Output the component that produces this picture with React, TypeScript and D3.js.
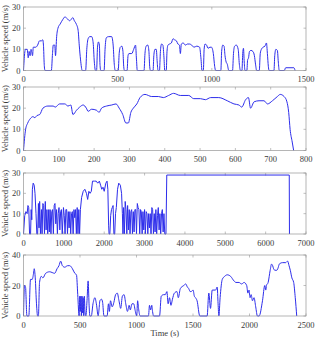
import React, {Component} from 'react';
import * as d3 from "d3"

// drive cycle 1: [time (s), speed (m/s)]
const cycle1: [number, number][] = [
  [0,0],[6,8],[10,10],[20,10],[25,6],[30,9],[35,7],[40,10],[48,7],[52,11],[65,11],[75,12],[85,14],[95,14],[102,14.5],[106,12],[110,3],[114,0],
  [148,0],[154,8],[158,12],[166,12],[170,7],[176,16],[183,20],[195,22],[208,24],[220,25.3],[232,24.5],[245,23.5],[252,24],[262,25],[270,23.5],[280,22],[290,19],[296,12],[303,5],[312,0],
  [330,0],[336,10],[343,15],[352,16],[362,16],[370,13],[376,4],[382,0],[388,0],[393,11],[398,13.5],[403,12],[406,3],[410,0],
  [428,0],[433,10],[440,15.5],[452,16],[468,16],[476,12],[482,3],[487,0],
  [503,0],[508,8],[514,11],[522,11.5],[528,9],[532,2],[536,0],
  [550,0],[555,7],[560,8],[575,8],[585,10],[595,12],[600,5],[604,0],
  [640,0],[645,8],[651,11.5],[660,12],[666,9],[670,2],[674,0],
  [688,0],[692,7],[698,10],[705,10],[710,4],[714,0],
  [722,0],[727,9],[733,12.5],[740,12],[746,6],[750,0],
  [758,0],[762,9],[767,12],[775,12.5],[785,13],[794,15],[802,14.5],[812,14],[820,12.5],[828,12],[833,8],[838,12.5],[848,13],[860,12],[870,12.5],[882,12.5],[893,12],[905,11],[920,11.5],[935,11],[942,6],[948,0],
  [955,0],[959,10],[964,12.5],[972,12],[980,10.5],[990,11],[998,11],[1008,8],[1015,2],[1020,0],
  [1048,0],[1052,9],[1058,12],[1065,11.5],[1070,7],[1076,4],[1082,3],[1090,0],
  [1110,0],[1115,8],[1121,11.5],[1130,12],[1140,10],[1146,3],[1152,0],
  [1160,0],[1164,8],[1168,10.5],[1172,4],[1176,0],
  [1186,0],[1190,5],[1195,6],[1200,9],[1208,9.5],[1218,9],[1226,7],[1232,3],[1238,0],
  [1252,0],[1257,8],[1263,10],[1272,11],[1282,11.5],[1290,13],[1295,8],[1300,2],[1304,0],
  [1330,0],[1334,7],[1340,10],[1348,9.5],[1353,4],[1358,0],
  [1385,0],[1392,1.3],[1436,1.3],[1442,0]
]

// drive cycle 2
const cycle2: [number, number][] = [
  [0,0],[6,10],[12,13],[19,15],[27,16],[32,15.5],[38,16.5],[46,17],[55,20],[69,21],[84,21],[90,20.5],[102,22],[117,22],[126,21],[134,21.5],[140,17],
  [150,19],[159,20.5],[169,21.5],[178,20],[183,18.5],[193,19.5],[207,19],[214,18],[221,20],[235,21],[250,21.5],[262,22],[271,20],[281,17],[290,13],[297,13],
  [304,18],[311,20],[321,22],[330,25],[344,26.5],[363,25.5],[382,25.5],[396,25],[411,26],[425,27],[444,26],[468,26],[482,24.5],[501,24.5],[515,24],[530,25],
  [553,25],[577,23.5],[596,22],[610,21.5],[618,20.5],[629,24],[637,25],[643,20],[653,23],[667,23.5],[681,23.5],[691,22],[705,23.5],[719,25.5],[727,26.5],
  [738,25.5],[746,23],[751,18],[755,10],[761,4],[765,0]
]

// drive cycle 3
const cycle3: [number, number][] = [
  [0,0],[30,9],[60,11],[90,10],[110,14],[130,13],[150,0],[175,0],[190,12],[205,7],[220,22],[240,25],[265,24],[285,20],[310,10],[330,0],[350,0],
  [370,15],[385,3],[400,16],[420,0],[445,12],[460,0],[480,15],[500,14],[520,0],[540,16],[560,2],[580,12],[600,0],[625,12],[640,1],[660,12],[680,0],
  [700,11],[720,12],[740,0],[760,14],[780,15],[800,5],[820,12],[840,0],[860,10],[880,13],[900,2],[920,11],[940,12],[960,0],[990,13],[1010,9],[1030,0],
  [1050,12],[1070,12],[1090,0],[1110,11],[1130,3],[1150,11],[1170,0],[1190,10],[1210,11],[1230,0],[1250,12],[1270,8],[1290,12],[1310,0],[1330,13],
  [1350,0],[1370,12],[1390,0],[1410,12],[1440,18],[1480,21],[1520,22],[1560,20],[1590,17],[1620,21],[1650,20],[1680,21],[1710,26],[1760,26],[1800,26],
  [1840,25],[1880,26],[1910,24],[1940,22],[1970,23],[2000,21],[2040,25],[2070,26],[2090,22],[2110,4],[2120,0],[2140,0],[2160,9],[2180,12],[2200,13],
  [2220,14],[2240,0],[2260,0],[2280,10],[2300,13],[2330,22],[2360,25],[2400,24],[2430,20],[2450,10],[2465,0],[2480,13],[2500,0],[2520,16],[2540,12],
  [2560,0],[2580,14],[2600,2],[2620,12],[2640,0],[2660,11],[2680,12],[2700,0],[2720,11],[2740,1],[2760,12],[2780,12],[2800,0],[2820,15],[2840,13],
  [2860,12],[2880,0],[2900,12],[2920,11],[2940,0],[2960,11],[2980,2],[3000,12],[3020,0],[3040,11],[3060,10],[3080,0],[3100,10],[3120,3],[3140,10],
  [3160,0],[3180,13],[3200,12],[3220,0],[3240,10],[3260,1],[3280,12],[3300,0],[3320,9],[3340,13],[3360,2],[3380,10],[3400,0],[3420,10],[3440,12],
  [3460,1],[3480,10],[3500,0],[3530,0],[3550,29],[6585,29],[6590,0]
]

// drive cycle 4
const cycle4: [number, number][] = [
  [0,0],[9,20],[18,19],[30,0],[47,0],[62,24],[77,24],[89,28],[95,31],[104,25],[115,8],[125,0],[132,0],[142,22],[157,26],[172,25],[196,28],[231,29],
  [276,28],[297,31],[314,33],[329,36],[344,33],[365,32],[390,33],[409,33],[433,31],[454,28],[469,27],[480,14],[492,0],
  [498,13],[503,3],[508,13],[513,0],[518,13],[523,2],[528,12],[533,0],[538,13],[545,2],[552,0],[562,10],[572,23],[580,8],[587,0],
  [600,0],[615,8],[632,12],[645,8],[661,0],[668,4],[676,10],[690,11],[700,9],[712,0],[740,0],[752,8],[760,3],[770,10],[785,6],[800,9],
  [815,14],[830,15],[845,10],[860,5],[875,13],[890,14],[905,8],[920,3],[935,7],[945,4],[960,8],[975,8],[990,3],[1002,0],[1010,10],[1018,5],[1032,0],
  [1106,0],[1115,7],[1125,4],[1135,7],[1142,3],[1151,0],[1204,0],[1219,13],[1240,14],[1255,14],[1269,16],[1280,8],[1292,12],[1305,7],[1318,11],
  [1335,15],[1358,16],[1370,12],[1388,18],[1418,20],[1436,21],[1450,19],[1462,18],[1475,16],[1483,16],[1501,17],[1512,13],[1522,12],[1536,10],[1560,0],
  [1625,0],[1640,15],[1655,5],[1670,17],[1700,17],[1714,19],[1722,8],[1729,0],[1740,12],[1759,24],[1780,26],[1803,27],[1833,26],[1863,23],[1880,22],
  [1907,22],[1930,21],[1952,22],[1975,20],[1986,15],[1996,17],[2005,12],[2015,14],[2026,10],[2040,12],[2055,6],[2070,0],[2085,0],[2115,10],[2135,20],
  [2144,17],[2150,20],[2165,22],[2183,30],[2195,34],[2205,33],[2213,31],[2225,30],[2242,30],[2255,32],[2263,34],[2293,35],[2320,35],[2337,36],
  [2350,33],[2361,30],[2375,25],[2391,22],[2405,12],[2418,0]
]

const panels = [
  {data: cycle1, xMax: 1500, xTicks: [0, 500, 1000, 1500], yMax: 30, yTicks: [0, 10, 20, 30], top: 7, bottom: 70.5},
  {data: cycle2, xMax: 800, xTicks: [0, 100, 200, 300, 400, 500, 600, 700, 800], yMax: 30, yTicks: [0, 10, 20, 30], top: 87, bottom: 150.5},
  {data: cycle3, xMax: 7000, xTicks: [0, 1000, 2000, 3000, 4000, 5000, 6000, 7000], yMax: 30, yTicks: [0, 10, 20, 30], top: 173, bottom: 234},
  {data: cycle4, xMax: 2500, xTicks: [0, 500, 1000, 1500, 2000, 2500], yMax: 40, yTicks: [0, 20, 40], top: 255, bottom: 316},
]

interface ChartState {
  padding: {width: number, height: number, left: number, right: number}
}

class DriveCycles extends Component<{}, ChartState> {
  public constructor(props: {}) {
    super(props)
    this.state = {
      padding: {width: 320, height: 339, left: 23.5, right: 306}
    }
  }

  renderCharts() {
    const {padding} = this.state
    const root = d3.select("#DriveCycles")
    root.selectAll("*").remove()

    const svg = root.append("svg")
      .attr("width", padding.width)
      .attr("height", padding.height)
      .style("position", "absolute")
      .style("left", "0px")
      .style("top", "0px")
      .style("background", "#fff")
      .style("font-family", "'Liberation Serif', 'DejaVu Serif', serif")

    const tickLen = 2.5
    const axisColor = "rgb(150,150,150)"
    const textColor = "#3a3a3a"

    panels.forEach((p, i) => {
      const x = d3.scaleLinear().domain([0, p.xMax]).range([padding.left, padding.right])
      const y = d3.scaleLinear().domain([0, p.yMax]).range([p.bottom, p.top])
      const g = svg.append("g").attr("class", "panel")

      // ticks on all four sides, pointing inward
      g.selectAll(".xtick-b").data(p.xTicks).join("line")
        .attr("x1", d => x(d)).attr("x2", d => x(d))
        .attr("y1", p.bottom).attr("y2", p.bottom - tickLen)
        .attr("stroke", axisColor).attr("stroke-width", 0.6)
      g.selectAll(".xtick-t").data(p.xTicks).join("line")
        .attr("x1", d => x(d)).attr("x2", d => x(d))
        .attr("y1", p.top).attr("y2", p.top + tickLen)
        .attr("stroke", axisColor).attr("stroke-width", 0.6)
      g.selectAll(".ytick-l").data(p.yTicks).join("line")
        .attr("x1", padding.left).attr("x2", padding.left + tickLen)
        .attr("y1", d => y(d)).attr("y2", d => y(d))
        .attr("stroke", axisColor).attr("stroke-width", 0.6)
      g.selectAll(".ytick-r").data(p.yTicks).join("line")
        .attr("x1", padding.right).attr("x2", padding.right - tickLen)
        .attr("y1", d => y(d)).attr("y2", d => y(d))
        .attr("stroke", axisColor).attr("stroke-width", 0.6)

      const line = d3.line<[number, number]>()
        .x(d => x(d[0]))
        .y(d => y(d[1]))
        .curve(i === 2 ? d3.curveLinear : d3.curveMonotoneX)

      g.append("path")
        .datum(p.data)
        .attr("d", line)
        .attr("fill", "none")
        .attr("stroke", "rgb(45,45,235)")
        .attr("stroke-width", 1)
        .attr("stroke-linejoin", "round")

      g.append("rect")
        .attr("x", padding.left).attr("y", p.top)
        .attr("width", padding.right - padding.left)
        .attr("height", p.bottom - p.top)
        .attr("fill", "none")
        .attr("stroke", axisColor)
        .attr("stroke-width", 0.7)

      g.selectAll(".xlabel").data(p.xTicks).join("text")
        .attr("x", d => x(d))
        .attr("y", p.bottom + 11.5)
        .attr("text-anchor", "middle")
        .attr("font-size", 8.5)
        .attr("fill", textColor)
        .text(d => d)

      g.selectAll(".ylabel").data(p.yTicks).join("text")
        .attr("x", padding.left - 3)
        .attr("y", d => y(d) + 3)
        .attr("text-anchor", "end")
        .attr("font-size", 8.5)
        .attr("fill", textColor)
        .text(d => d)

      g.append("text")
        .attr("transform", `translate(8,${(p.top + p.bottom) / 2}) rotate(-90)`)
        .attr("text-anchor", "middle")
        .attr("font-size", 8.5)
        .attr("fill", textColor)
        .text("Vehicle speed (m/s)")
    })

    svg.append("text")
      .attr("x", (padding.left + padding.right) / 2)
      .attr("y", 335.5)
      .attr("text-anchor", "middle")
      .attr("font-size", 8.5)
      .attr("fill", textColor)
      .text("Time (s)")
  }

  componentDidMount() {
    this.renderCharts()
  }

  public render(): JSX.Element {
    return (
      <div className="DriveCycles" id="DriveCycles"></div>
    )
  }
}

export default function App() {
  return <DriveCycles />
}
